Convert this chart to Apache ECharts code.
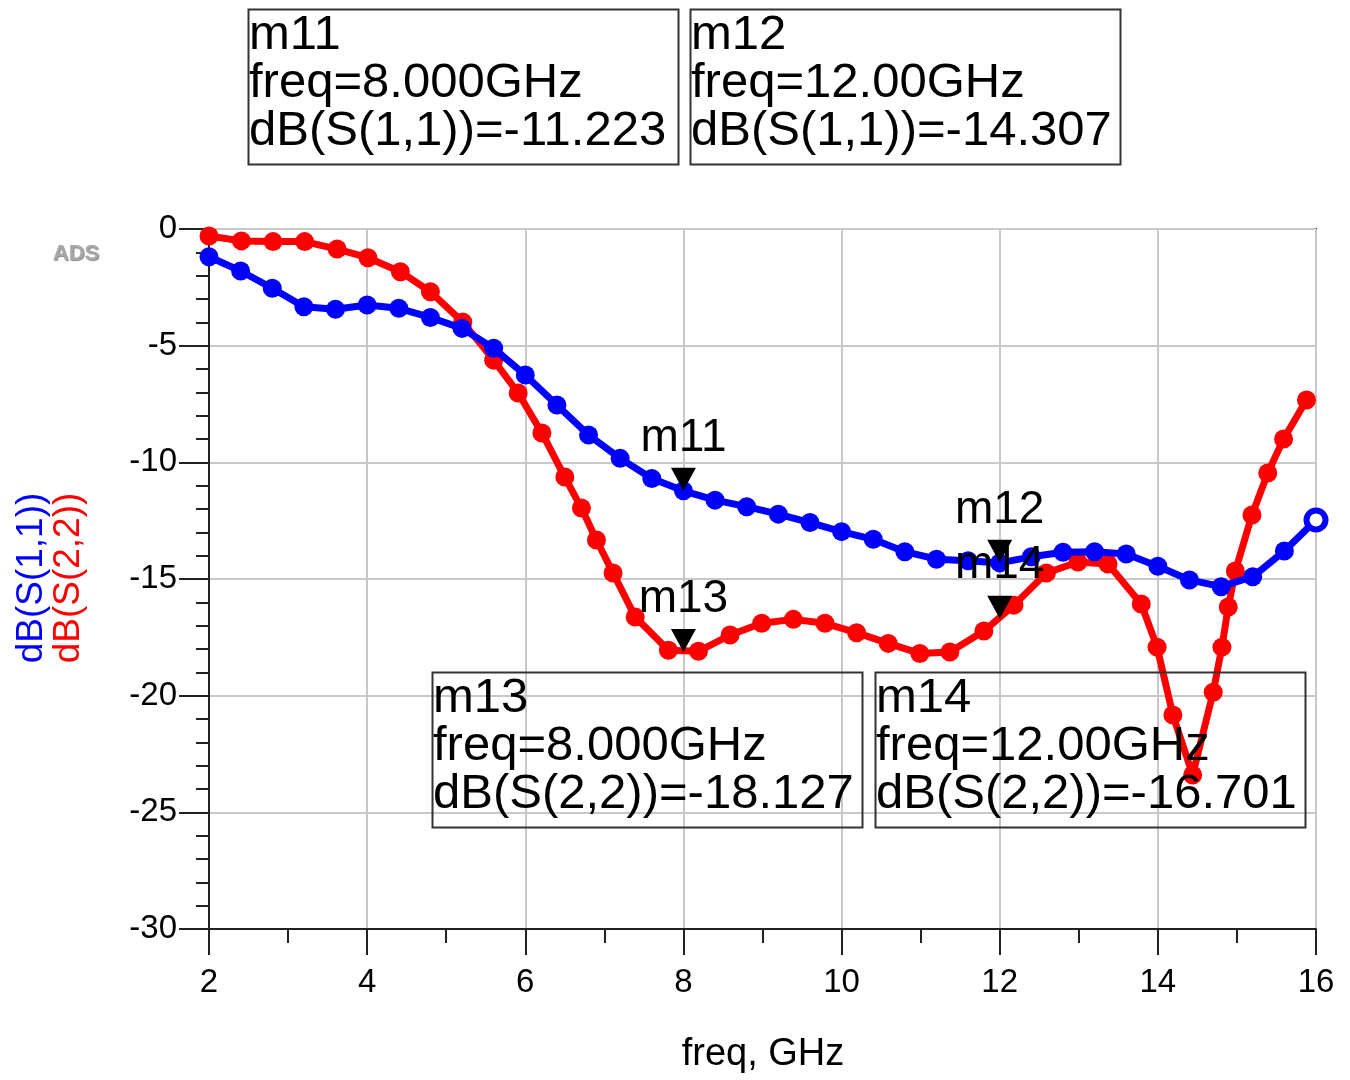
<!DOCTYPE html>
<html>
<head>
<meta charset="utf-8">
<script src="https://cdn.jsdelivr.net/npm/echarts@6/dist/echarts.min.js"></script>
<style>
html,body{margin:0;padding:0;background:#fff;}
#chart{width:1350px;height:1080px;}
</style>
</head>
<body>
<div id="chart"></div>
<script>
// ---- data ----
var s11Freq = [2.0,2.4,2.8,3.2,3.6,4.0,4.4,4.8,5.2,5.6,6.0,6.4,6.8,7.2,7.6,8.0,8.4,8.8,9.2,9.6,10.0,10.4,10.8,11.2,11.6,12.0,12.4,12.8,13.2,13.6,14.0,14.4,14.8,15.2,15.6,16.0];
var s11dB   = [-1.19,-1.80,-2.54,-3.33,-3.44,-3.26,-3.40,-3.79,-4.26,-5.11,-6.26,-7.54,-8.83,-9.83,-10.69,-11.22,-11.62,-11.90,-12.22,-12.58,-12.97,-13.30,-13.83,-14.15,-14.22,-14.31,-14.05,-13.85,-13.83,-13.93,-14.45,-15.04,-15.33,-14.90,-13.80,-12.47];

var s22Freq = [2.00,2.41,2.81,3.21,3.62,4.01,4.42,4.80,5.21,5.60,5.91,6.21,6.50,6.71,6.90,7.11,7.39,7.81,8.19,8.59,8.99,9.39,9.79,10.19,10.59,10.99,11.37,11.80,12.18,12.59,12.99,13.37,13.79,13.99,14.19,14.44,14.70,14.81,14.89,14.98,15.19,15.39,15.59,15.88];
var s22dB   = [-0.30,-0.51,-0.54,-0.54,-0.86,-1.23,-1.83,-2.69,-3.99,-5.62,-7.03,-8.74,-10.63,-11.96,-13.33,-14.74,-16.63,-18.05,-18.10,-17.40,-16.90,-16.73,-16.90,-17.30,-17.76,-18.19,-18.13,-17.23,-16.12,-14.74,-14.27,-14.36,-16.07,-17.92,-20.83,-23.40,-19.85,-17.92,-16.20,-14.66,-12.26,-10.46,-9.00,-7.33];

var xTicks = [2,4,6,8,10,12,14,16];
var yTicks = [0,-5,-10,-15,-20,-25,-30];

var markerNames = ['m11','m12','m13','m14'];
var markerFreq  = [8.0, 12.0, 8.0, 12.0];
var markerVal   = [-11.223, -14.307, -18.127, -16.701];
var markerTrace = ['dB(S(1,1))','dB(S(1,1))','dB(S(2,2))','dB(S(2,2))'];
var markerFreqText = ['8.000GHz','12.00GHz','8.000GHz','12.00GHz'];

var yNameS11 = 'dB(S(1,1))';
var yNameS22 = 'dB(S(2,2))';
var xName = 'freq, GHz';

// ---- build ----
var FONT = '"Liberation Sans", Arial, sans-serif';
function pairs(xs, ys){ return xs.map(function(x,i){ return [x, ys[i]]; }); }

var s11Data = pairs(s11Freq, s11dB);
var last = s11Data.length - 1;
s11Data[last] = {value: s11Data[last], itemStyle:{color:'#ffffff', borderColor:'#0000ff', borderWidth:6}};

function mp(i){
  return {
    name: markerNames[i],
    coord: [markerFreq[i], markerVal[i]],
    label: {formatter: markerNames[i]}
  };
}
var markStyle = {
  symbol: 'path://M0,0L20,0L10,20Z',
  symbolSize: [25, 23],
  symbolOffset: [0, '-50%'],
  itemStyle: {color: '#000'},
  label: {show: true, position: 'top', distance: 7, color: '#000', fontSize: 46, fontFamily: FONT},
  animation: false
};

function box(i, x, y){
  var txt = markerNames[i] + '\nfreq=' + markerFreqText[i] + '\n' + markerTrace[i] + '=' + markerVal[i].toFixed(3);
  return [
    {type:'rect', left:x, top:y, shape:{x:0,y:0,width:430,height:155}, style:{fill:'none', stroke:'#333', lineWidth:2}, z:10},
    {type:'text', left:x+3, top:y+4, style:{text:txt, font:'49px ' + FONT, fill:'#000', lineHeight:48}, z:10}
  ];
}

var graphics = [].concat(
  box(0, 246, 7), box(1, 688, 7), box(2, 430, 670), box(3, 873, 670),
  [
    {type:'text', x:32, y:578, rotation:Math.PI/2, style:{text:yNameS11, font:'37px ' + FONT, fill:'#0000ff', align:'center', verticalAlign:'middle'}},
    {type:'text', x:69, y:578, rotation:Math.PI/2, style:{text:yNameS22, font:'37px ' + FONT, fill:'#ff0000', align:'center', verticalAlign:'middle'}},
    {type:'text', x:76, y:254, style:{text:'ADS', font:'bold 22px ' + FONT, fill:'#a8a8a8', align:'center', verticalAlign:'middle', textShadowColor:'#888', textShadowBlur:1, textShadowOffsetX:1, textShadowOffsetY:1}},
    {type:'text', x:763, y:1055, style:{text:xName, font:'38px ' + FONT, fill:'#000', align:'center', verticalAlign:'middle'}}
  ]
);

var chart = echarts.init(document.getElementById('chart'), null, {renderer:'canvas'});
chart.setOption({
  animation: false,
  backgroundColor: '#ffffff',
  grid: {left:209, right:34, top:229, bottom:151, show:true, borderColor:'#333', borderWidth:2, backgroundColor:'transparent', containLabel:false, outerBoundsMode:'none'},
  xAxis: {
    type:'value', min:xTicks[0], max:xTicks[xTicks.length-1], interval:2,
    axisLine:{show:true, onZero:false, lineStyle:{color:'#222', width:2}},
    axisTick:{show:true, length:26, lineStyle:{color:'#222', width:2}},
    minorTick:{show:true, splitNumber:2, length:14, lineStyle:{color:'#222', width:2}},
    splitLine:{show:true, lineStyle:{color:'#c8c8c8', width:2}},
    axisLabel:{fontSize:33, color:'#000', margin:37, fontFamily:FONT, showMinLabel:true, showMaxLabel:true}
  },
  yAxis: {
    type:'value', min:yTicks[yTicks.length-1], max:yTicks[0], interval:5,
    axisLine:{show:true, onZero:false, lineStyle:{color:'#222', width:2}},
    axisTick:{show:true, length:30, lineStyle:{color:'#222', width:2}},
    minorTick:{show:true, splitNumber:5, length:13, lineStyle:{color:'#222', width:2}},
    splitLine:{show:true, lineStyle:{color:'#c8c8c8', width:2}},
    axisLabel:{fontSize:33, color:'#000', margin:32, fontFamily:FONT, showMinLabel:true, showMaxLabel:true}
  },
  series: [
    {
      name:'dB(S(2,2))', type:'line', data:pairs(s22Freq, s22dB),
      symbol:'circle', symbolSize:19, showSymbol:true,
      lineStyle:{color:'#ff0000', width:7}, itemStyle:{color:'#ff0000'},
      z:2,
      markPoint: Object.assign({}, markStyle, {data:[mp(2), mp(3)]})
    },
    {
      name:'dB(S(1,1))', type:'line', data:s11Data,
      symbol:'circle', symbolSize:19, showSymbol:true,
      lineStyle:{color:'#0000ff', width:7}, itemStyle:{color:'#0000ff'},
      z:3,
      markPoint: Object.assign({}, markStyle, {data:[mp(0), mp(1)]})
    }
  ],
  graphic: graphics
});
</script>
</body>
</html>
